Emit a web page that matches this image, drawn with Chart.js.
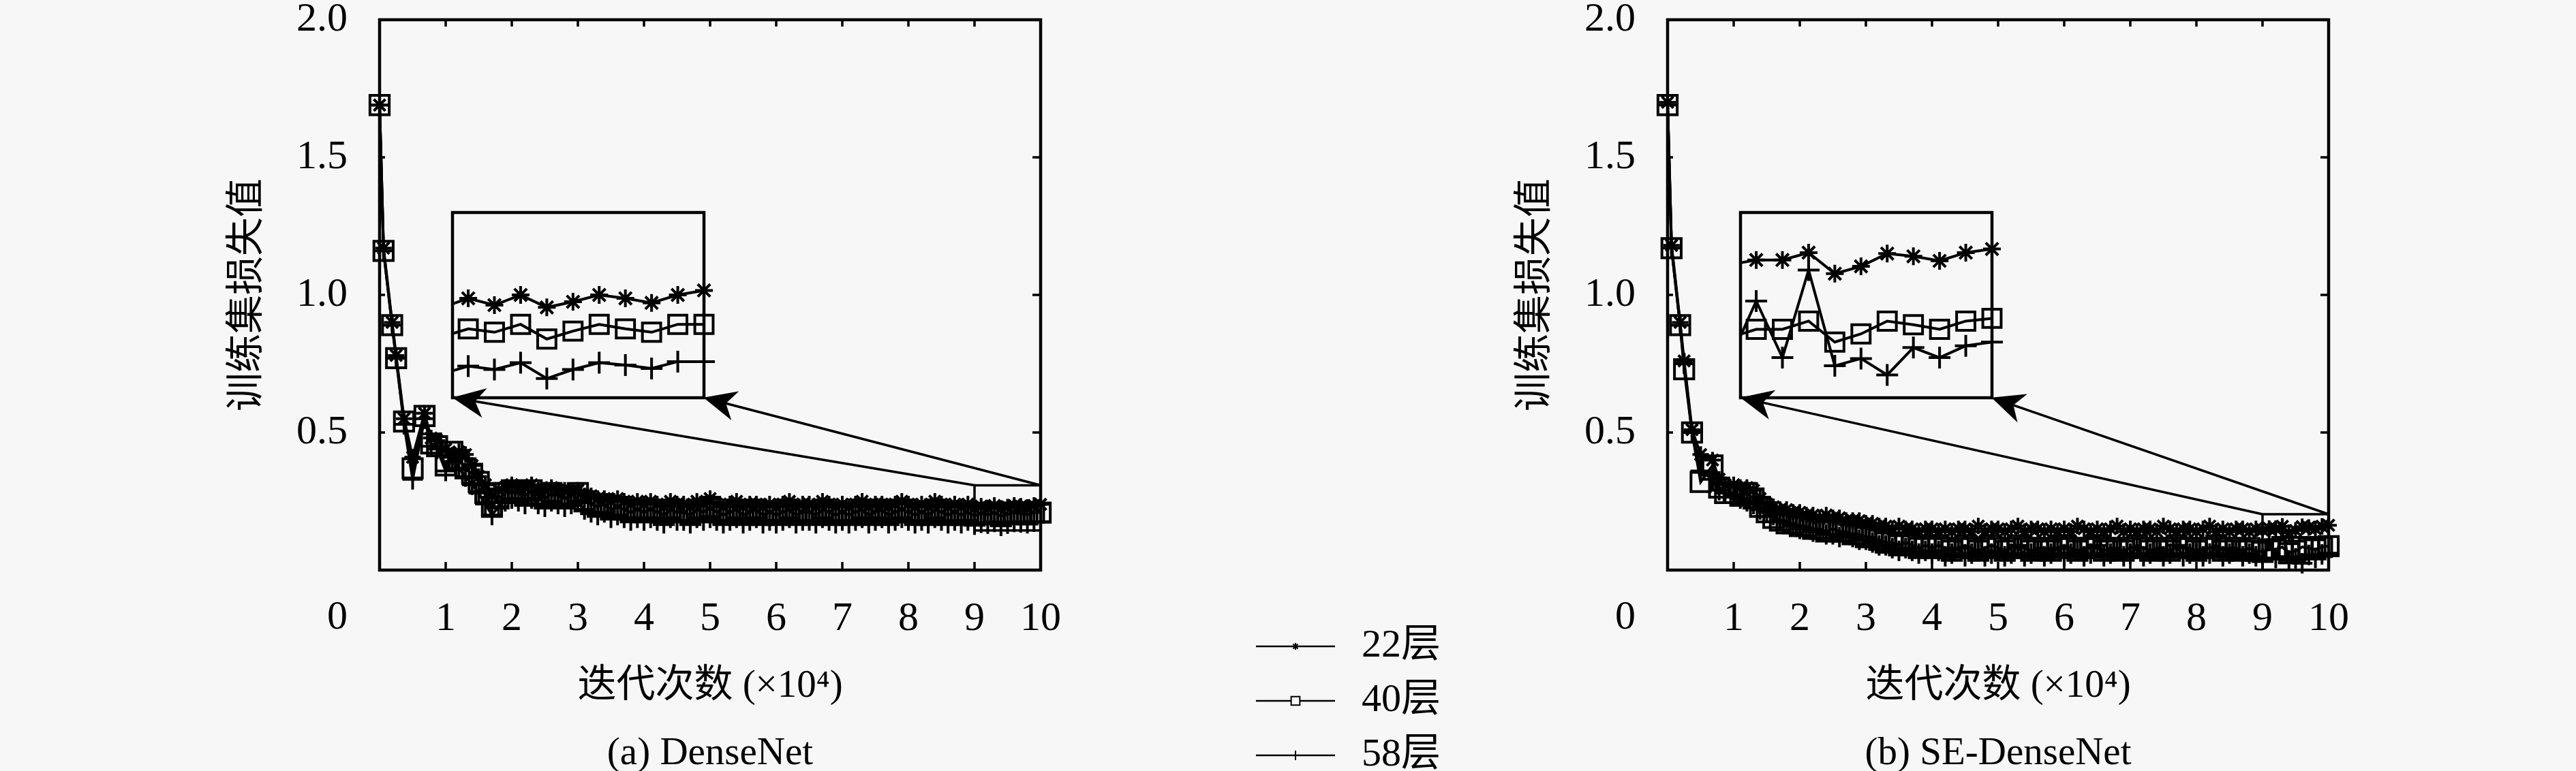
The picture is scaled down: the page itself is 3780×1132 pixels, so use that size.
<!DOCTYPE html>
<html>
<head>
<meta charset="utf-8">
<script src="https://cdn.jsdelivr.net/npm/chart.js@4/dist/chart.umd.min.js"></script>
<style>
html, body { margin: 0; padding: 0; background: #f7f7f7; }
#page { position: relative; width: 3780px; height: 1132px; overflow: hidden; }
canvas { position: absolute; }
</style>
</head>
<body>
<div id="page">
  <canvas id="mainA" width="1890" height="1132" style="left:0px;top:0px"></canvas>
  <canvas id="mainB" width="1890" height="1132" style="left:1890px;top:0px"></canvas>
  <canvas id="insetA"></canvas>
  <canvas id="insetB"></canvas>
  <canvas id="legend" width="330" height="234" style="left:1821px;top:898px"></canvas>
</div>
<script>
// iterations in units of 10^4
const iterations = [0, 0.06, 0.19, 0.25, 0.37, 0.5, 0.68, 0.78, 0.87,
  1.0, 1.1, 1.2, 1.3, 1.4, 1.5, 1.6, 1.7, 1.8, 1.9,
  2.0, 2.1, 2.2, 2.3, 2.4, 2.5, 2.6, 2.7, 2.8, 2.9,
  3.0, 3.1, 3.2, 3.3, 3.4, 3.5, 3.6, 3.7, 3.8, 3.9,
  4.0, 4.1, 4.2, 4.3, 4.4, 4.5, 4.6, 4.7, 4.8, 4.9,
  5.0, 5.1, 5.2, 5.3, 5.4, 5.5, 5.6, 5.7, 5.8, 5.9,
  6.0, 6.1, 6.2, 6.3, 6.4, 6.5, 6.6, 6.7, 6.8, 6.9,
  7.0, 7.1, 7.2, 7.3, 7.4, 7.5, 7.6, 7.7, 7.8, 7.9,
  8.0, 8.1, 8.2, 8.3, 8.4, 8.5, 8.6, 8.7, 8.8, 8.9,
  9.0, 9.1, 9.2, 9.3, 9.4, 9.5, 9.6, 9.7, 9.8, 9.9, 10.0];

const seriesNames = ['22层', '40层', '58层'];

// (a) DenseNet
const dense22 = [1.69, 1.17, 0.90, 0.78, 0.55, 0.41, 0.57, 0.48, 0.47,
  0.44, 0.41, 0.43, 0.42, 0.38, 0.34, 0.31, 0.27, 0.29, 0.30,
  0.31, 0.30, 0.30, 0.31, 0.29, 0.29, 0.30, 0.29, 0.29, 0.28,
  0.29, 0.27, 0.27, 0.26, 0.26, 0.25, 0.26, 0.25, 0.24, 0.25,
  0.24, 0.25, 0.24, 0.23, 0.25, 0.24, 0.24, 0.23, 0.25, 0.24,
  0.26, 0.24, 0.23, 0.24, 0.25, 0.23, 0.24, 0.24, 0.23, 0.24,
  0.23, 0.24, 0.25, 0.23, 0.24, 0.24, 0.23, 0.25, 0.24, 0.23,
  0.24, 0.23, 0.24, 0.25, 0.23, 0.24, 0.24, 0.23, 0.24, 0.25,
  0.24, 0.23, 0.24, 0.23, 0.25, 0.24, 0.23, 0.24, 0.23, 0.24,
  0.224, 0.232, 0.226, 0.235, 0.224, 0.229, 0.235, 0.232, 0.228, 0.235, 0.239];
const dense40 = [1.69, 1.16, 0.89, 0.77, 0.54, 0.37, 0.56, 0.46, 0.45,
  0.38, 0.43, 0.40, 0.37, 0.35, 0.32, 0.28, 0.23, 0.26, 0.28,
  0.29, 0.28, 0.27, 0.29, 0.27, 0.26, 0.28, 0.27, 0.26, 0.27,
  0.28, 0.25, 0.24, 0.23, 0.24, 0.22, 0.23, 0.22, 0.21, 0.22,
  0.21, 0.22, 0.21, 0.20, 0.22, 0.21, 0.21, 0.20, 0.22, 0.21,
  0.23, 0.21, 0.20, 0.21, 0.22, 0.20, 0.21, 0.22, 0.20, 0.21,
  0.20, 0.21, 0.22, 0.20, 0.21, 0.21, 0.20, 0.22, 0.21, 0.20,
  0.21, 0.20, 0.21, 0.22, 0.20, 0.21, 0.22, 0.20, 0.21, 0.22,
  0.21, 0.20, 0.21, 0.20, 0.22, 0.21, 0.20, 0.21, 0.20, 0.21,
  0.198, 0.205, 0.202, 0.209, 0.196, 0.203, 0.209, 0.205, 0.202, 0.209, 0.209];
const dense58 = [1.69, 1.16, 0.89, 0.77, 0.53, 0.33, 0.55, 0.45, 0.44,
  0.36, 0.41, 0.37, 0.34, 0.31, 0.28, 0.24, 0.20, 0.23, 0.25,
  0.26, 0.25, 0.24, 0.26, 0.24, 0.23, 0.25, 0.24, 0.23, 0.24,
  0.25, 0.22, 0.21, 0.20, 0.21, 0.19, 0.20, 0.19, 0.18, 0.19,
  0.18, 0.19, 0.18, 0.17, 0.19, 0.18, 0.18, 0.17, 0.19, 0.18,
  0.19, 0.18, 0.17, 0.18, 0.19, 0.17, 0.18, 0.19, 0.17, 0.18,
  0.17, 0.18, 0.19, 0.17, 0.18, 0.18, 0.17, 0.19, 0.18, 0.17,
  0.18, 0.17, 0.18, 0.19, 0.17, 0.18, 0.19, 0.17, 0.18, 0.19,
  0.18, 0.17, 0.18, 0.17, 0.19, 0.18, 0.17, 0.18, 0.17, 0.18,
  0.165, 0.172, 0.169, 0.175, 0.161, 0.169, 0.175, 0.173, 0.170, 0.176, 0.176];

// (b) SE-DenseNet
const se22 = [1.70, 1.18, 0.90, 0.76, 0.51, 0.42, 0.40, 0.33, 0.31,
  0.31, 0.30, 0.30, 0.29, 0.26, 0.24, 0.23, 0.22, 0.22, 0.21,
  0.21, 0.20, 0.20, 0.19, 0.20, 0.19, 0.19, 0.18, 0.18, 0.18,
  0.17, 0.17, 0.16, 0.16, 0.15, 0.16, 0.15, 0.15, 0.14, 0.15,
  0.15, 0.14, 0.15, 0.14, 0.15, 0.15, 0.14, 0.16, 0.14, 0.15,
  0.15, 0.14, 0.15, 0.16, 0.14, 0.15, 0.15, 0.14, 0.15, 0.14,
  0.15, 0.14, 0.16, 0.15, 0.14, 0.15, 0.14, 0.15, 0.16, 0.14,
  0.15, 0.14, 0.15, 0.15, 0.14, 0.16, 0.15, 0.14, 0.15, 0.15,
  0.14, 0.15, 0.16, 0.14, 0.15, 0.14, 0.15, 0.15, 0.14, 0.15,
  0.146, 0.151, 0.151, 0.159, 0.136, 0.144, 0.158, 0.155, 0.150, 0.159, 0.163];
const se40 = [1.69, 1.17, 0.89, 0.73, 0.50, 0.32, 0.38, 0.30, 0.28,
  0.28, 0.27, 0.28, 0.26, 0.23, 0.21, 0.19, 0.18, 0.17, 0.17,
  0.16, 0.16, 0.15, 0.15, 0.14, 0.15, 0.14, 0.14, 0.13, 0.13,
  0.12, 0.12, 0.11, 0.10, 0.10, 0.09, 0.10, 0.09, 0.08, 0.09,
  0.08, 0.09, 0.08, 0.07, 0.08, 0.09, 0.08, 0.07, 0.08, 0.09,
  0.08, 0.07, 0.08, 0.09, 0.08, 0.07, 0.08, 0.08, 0.07, 0.08,
  0.09, 0.08, 0.07, 0.08, 0.08, 0.09, 0.07, 0.08, 0.08, 0.07,
  0.08, 0.09, 0.08, 0.07, 0.08, 0.08, 0.07, 0.09, 0.08, 0.08,
  0.07, 0.08, 0.08, 0.09, 0.07, 0.08, 0.08, 0.07, 0.08, 0.07,
  0.066, 0.075, 0.075, 0.084, 0.061, 0.070, 0.084, 0.080, 0.075, 0.084, 0.087];
const se58 = [1.69, 1.17, 0.89, 0.75, 0.50, 0.36, 0.33, 0.29, 0.28,
  0.27, 0.26, 0.25, 0.24, 0.22, 0.21, 0.20, 0.18, 0.17, 0.16,
  0.15, 0.15, 0.14, 0.14, 0.13, 0.13, 0.12, 0.13, 0.12, 0.11,
  0.11, 0.10, 0.09, 0.09, 0.08, 0.07, 0.08, 0.07, 0.06, 0.07,
  0.06, 0.07, 0.05, 0.06, 0.08, 0.05, 0.06, 0.07, 0.05, 0.06,
  0.07, 0.05, 0.06, 0.09, 0.05, 0.06, 0.07, 0.05, 0.06, 0.08,
  0.05, 0.06, 0.07, 0.05, 0.06, 0.09, 0.05, 0.06, 0.07, 0.05,
  0.06, 0.08, 0.05, 0.06, 0.07, 0.05, 0.06, 0.09, 0.05, 0.06,
  0.07, 0.05, 0.06, 0.08, 0.05, 0.06, 0.07, 0.05, 0.06, 0.05,
  0.042, 0.106, 0.044, 0.140, 0.035, 0.043, 0.025, 0.055, 0.044, 0.057, 0.061];

const xTickValues = [0, 1, 2, 3, 4, 5, 6, 7, 8, 9, 10];
const yTickValues = [0, 0.5, 1.0, 1.5, 2.0];
const xTitle = '迭代次数 (×10⁴)';
const yTitle = '训练集损失值';
const panelTitles = ['(a) DenseNet', '(b) SE-DenseNet'];

// magnified window (x 9..10) and where the inset sits on the main axes
const zoomX = [9, 10];
const zoomYA = [0.144, 0.308];
const zoomYB = [0, 0.203];
const insetBox = { x: [1.1, 4.9], y: [0.627, 1.30] };

const FONT = "'Liberation Serif', 'Noto Sans CJK SC', serif";
const markerStyles = ['star', 'rect', 'cross'];
const mainRadius = [12, 20, 15];
const insetRadius = [13, 19, 16];

function makeDatasets(list, radii, lw) {
  return list.map((vals, i) => ({
    label: seriesNames[i],
    data: iterations.map((x, j) => ({ x: x, y: vals[j] })),
    borderColor: '#000',
    backgroundColor: 'rgba(0,0,0,0)',
    borderWidth: lw,
    pointStyle: markerStyles[i],
    pointRadius: radii[i],
    pointBorderWidth: lw,
    pointBorderColor: '#000',
    pointBackgroundColor: 'rgba(0,0,0,0)',
    tension: 0
  }));
}

function arrow(ctx, x0, y0, x1, y1) {
  const a = Math.atan2(y1 - y0, x1 - x0);
  const L = 48, W = 22, N = 34;
  const c = Math.cos(a), s = Math.sin(a);
  ctx.beginPath();
  ctx.moveTo(x0, y0);
  ctx.lineTo(x1 - c * N, y1 - s * N);
  ctx.stroke();
  ctx.beginPath();
  ctx.moveTo(x1, y1);
  ctx.lineTo(x1 - c * L + s * W, y1 - s * L - c * W);
  ctx.lineTo(x1 - c * N, y1 - s * N);
  ctx.lineTo(x1 - c * L - s * W, y1 - s * L + c * W);
  ctx.closePath();
  ctx.fill();
}

const framePlugin = {
  id: 'frame',
  beforeDatasetsDraw(chart) {
    const { ctx, chartArea: a, scales: { x, y } } = chart;
    ctx.save();
    ctx.strokeStyle = '#000';
    ctx.lineWidth = 4.5;
    ctx.strokeRect(a.left, a.top, a.right - a.left, a.bottom - a.top);
    ctx.lineWidth = 3.5;
    ctx.beginPath();
    x.ticks.forEach(t => {
      if (t.value <= x.min || t.value >= x.max) return;
      const p = x.getPixelForValue(t.value);
      ctx.moveTo(p, a.bottom); ctx.lineTo(p, a.bottom - 12);
      ctx.moveTo(p, a.top); ctx.lineTo(p, a.top + 10);
    });
    y.ticks.forEach(t => {
      if (t.value <= y.min || t.value >= y.max) return;
      const p = y.getPixelForValue(t.value);
      ctx.moveTo(a.left, p); ctx.lineTo(a.left + 8, p);
      ctx.moveTo(a.right, p); ctx.lineTo(a.right - 12, p);
    });
    ctx.stroke();
    // shared origin label, placed left of the corner like the original
    ctx.fillStyle = '#000';
    ctx.font = '60px ' + FONT;
    ctx.textAlign = 'right';
    ctx.textBaseline = 'middle';
    ctx.fillText(String(xTickValues[0]), y.right - 47, x.top + 70);
    ctx.restore();
  },
  afterDatasetsDraw(chart, args, opts) {
    const { ctx, scales: { x, y } } = chart;
    const zy = opts.zoomY;
    const bx0 = x.getPixelForValue(zoomX[0]), bx1 = x.getPixelForValue(zoomX[1]);
    const by0 = y.getPixelForValue(zy[1]), by1 = y.getPixelForValue(zy[0]);
    ctx.save();
    ctx.strokeStyle = '#000';
    ctx.fillStyle = '#000';
    ctx.lineWidth = 3.5;
    ctx.strokeRect(bx0, by0, bx1 - bx0, by1 - by0);
    const ix0 = x.getPixelForValue(insetBox.x[0]), ix1 = x.getPixelForValue(insetBox.x[1]);
    const iy = y.getPixelForValue(insetBox.y[0]);
    arrow(ctx, bx0, by0, ix0, iy);
    arrow(ctx, bx1, by0, ix1, iy);
    ctx.restore();
  }
};

function mainChart(id, list, title, zoomY) {
  return new Chart(document.getElementById(id), {
    type: 'line',
    data: { datasets: makeDatasets(list, mainRadius, 4) },
    options: {
      responsive: false,
      animation: false,
      devicePixelRatio: 1,
      layout: { padding: { left: 0, top: 29, right: 363, bottom: 0 } },
      datasets: { line: { clip: false } },
      plugins: {
        legend: { display: false },
        tooltip: { enabled: false },
        title: {
          display: true, text: title, position: 'bottom', fullSize: false,
          color: '#000', font: { family: FONT, size: 57, weight: 'normal', lineHeight: 1 }, padding: { top: 0, bottom: -4 }
        },
        frame: { zoomY: zoomY }
      },
      scales: {
        x: {
          type: 'linear', min: 0, max: 10,
          grid: { display: false, drawTicks: false },
          border: { display: false },
          afterBuildTicks: s => { s.ticks = xTickValues.map(v => ({ value: v })); },
          afterFit: s => { s.height = 242; s.paddingLeft = 0; s.paddingRight = 0; },
          ticks: {
            padding: 36, color: '#000', maxRotation: 0, autoSkip: false,
            font: { family: FONT, size: 60 },
            callback: v => (v === xTickValues[0] ? '' : String(v))
          },
          title: {
            display: true, text: xTitle, color: '#000',
            font: { family: FONT, size: 57, lineHeight: 1 },
            padding: { top: 0, bottom: 42 }
          }
        },
        y: {
          type: 'linear', min: 0, max: 2,
          grid: { display: false, drawTicks: false },
          border: { display: false },
          afterBuildTicks: s => { s.ticks = yTickValues.map(v => ({ value: v })); },
          afterFit: s => { s.width = 557; s.paddingTop = 0; s.paddingBottom = 0; },
          ticks: {
            padding: 47, color: '#000',
            font: { family: FONT, size: 60 },
            callback: v => (v === 0 ? '' : v.toFixed(1))
          },
          title: {
            display: true, text: yTitle, color: '#000',
            font: { family: FONT, size: 57, lineHeight: 1 },
            padding: { top: 336, bottom: 0 }
          }
        }
      }
    },
    plugins: [framePlugin]
  });
}

const insetBorder = {
  id: 'insetBorder',
  afterDraw(chart) {
    const { ctx, chartArea: a } = chart;
    ctx.save();
    ctx.strokeStyle = '#000';
    ctx.lineWidth = 4.5;
    ctx.strokeRect(a.left, a.top, a.right - a.left, a.bottom - a.top);
    ctx.restore();
  }
};

function insetChart(id, main, list, zoomY) {
  const xs = main.scales.x, ys = main.scales.y;
  const left = xs.getPixelForValue(insetBox.x[0]), right = xs.getPixelForValue(insetBox.x[1]);
  const top = ys.getPixelForValue(insetBox.y[1]), bottom = ys.getPixelForValue(insetBox.y[0]);
  const pad = 30;
  const cv = document.getElementById(id);
  cv.width = Math.round(right - left) + 2 * pad;
  cv.height = Math.round(bottom - top) + 2 * pad;
  cv.style.left = (parseFloat(main.canvas.style.left) + left - pad) + 'px';
  cv.style.top = (top - pad) + 'px';
  return new Chart(cv, {
    type: 'line',
    data: { datasets: makeDatasets(list, insetRadius, 4) },
    options: {
      responsive: false,
      animation: false,
      devicePixelRatio: 1,
      layout: { padding: pad },
      datasets: { line: { clip: { left: 0, right: pad, top: pad, bottom: pad } } },
      plugins: { legend: { display: false }, tooltip: { enabled: false } },
      scales: {
        x: { type: 'linear', min: zoomX[0] + 0.04, max: zoomX[1], display: false },
        y: { type: 'linear', min: zoomY[0], max: zoomY[1], display: false }
      }
    },
    plugins: [insetBorder]
  });
}

const chartA = mainChart('mainA', [dense22, dense40, dense58], panelTitles[0], zoomYA);
const chartB = mainChart('mainB', [se22, se40, se58], panelTitles[1], zoomYB);
chartA.canvas.style.left = '0px';
chartB.canvas.style.left = '1890px';
insetChart('insetA', chartA, [dense22, dense40, dense58], zoomYA);
insetChart('insetB', chartB, [se22, se40, se58], zoomYB);

// legend: line sample with its marker
const legendRadius = [5, 9, 7];
function legendIcon(i) {
  const c = document.createElement('canvas');
  c.width = 126; c.height = 30;
  const g = c.getContext('2d');
  g.strokeStyle = '#000';
  g.fillStyle = '#f7f7f7';
  g.lineWidth = 2.5;
  g.beginPath(); g.moveTo(0, 15); g.lineTo(116, 15); g.stroke();
  g.lineWidth = 2;
  Chart.helpers.drawPoint(g, { pointStyle: markerStyles[i], radius: legendRadius[i], borderWidth: 2 }, 58, 15);
  return c;
}
const legendIcons = seriesNames.map((n, i) => legendIcon(i));

new Chart(document.getElementById('legend'), {
  type: 'line',
  data: { datasets: [] },
  options: {
    responsive: false,
    animation: false,
    devicePixelRatio: 1,
    scales: { x: { display: false }, y: { display: false } },
    plugins: {
      tooltip: { enabled: false },
      legend: {
        display: true, position: 'top', align: 'start', maxHeight: 400,
        labels: {
          usePointStyle: true, pointStyleWidth: 126, padding: 22, color: '#000',
          font: { family: FONT, size: 58 },
          generateLabels: () => seriesNames.map((name, i) => ({
            text: name, pointStyle: legendIcons[i], fillStyle: 'rgba(0,0,0,0)',
            strokeStyle: '#000', lineWidth: 0, hidden: false, datasetIndex: i
          }))
        }
      }
    }
  }
});
</script>
</body>
</html>
